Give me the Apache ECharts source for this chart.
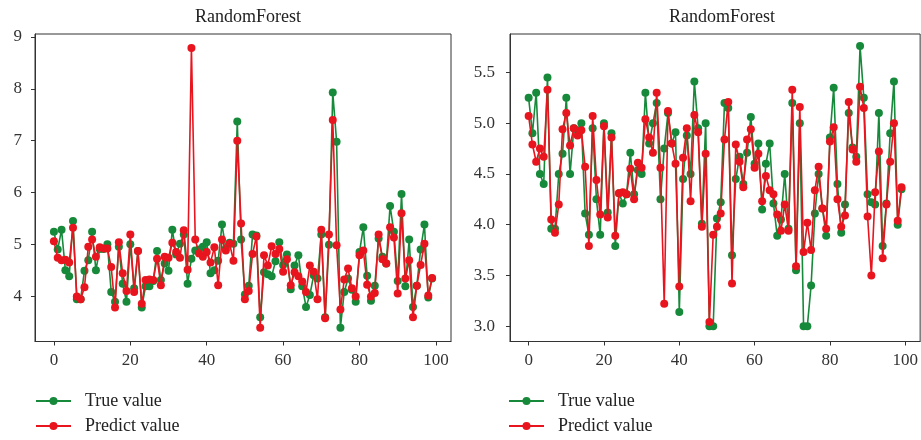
<!DOCTYPE html>
<html>
<head>
<meta charset="utf-8">
<script src="https://cdn.jsdelivr.net/npm/echarts@6/dist/echarts.min.js"></script>
<style>
html,body{margin:0;padding:0;background:#fff;}
#chart{width:921px;height:440px;}
</style>
</head>
<body>
<div id="chart"></div>
<script>
const titleText = 'RandomForest';
const legendNames = ['True value', 'Predict value'];
const xTicks = [0, 20, 40, 60, 80, 100];
const yTicksLeft = [4, 5, 6, 7, 8, 9];
const yTicksRight = [3.0, 3.5, 4.0, 4.5, 5.0, 5.5];

const trueLeft = [5.24,4.9,5.28,4.5,4.38,5.45,3.94,3.94,4.49,4.69,5.24,4.5,4.91,4.91,5.0,4.08,3.89,4.95,4.24,3.89,
5.0,4.15,4.87,3.78,4.19,4.19,4.29,4.87,4.31,4.63,4.49,5.28,4.8,5.01,5.19,4.24,4.72,4.88,4.9,4.95,
5.04,4.44,4.5,4.68,5.38,4.92,5.03,5.01,7.37,5.09,4.03,4.2,5.19,5.17,3.59,4.46,4.42,4.38,4.67,5.04,
4.6,4.8,4.13,4.59,4.79,4.19,3.79,4.02,4.4,4.34,5.19,3.59,4.99,7.93,6.98,3.39,4.08,4.34,4.12,3.89,
4.85,5.33,4.39,3.91,4.2,5.11,4.76,4.63,5.74,5.24,4.29,5.97,4.19,5.09,3.79,4.2,4.9,5.38,3.97,4.34];
const predLeft = [5.06,4.74,4.69,4.7,4.65,5.32,3.99,3.94,4.17,4.95,5.09,4.76,4.94,4.92,4.92,4.56,3.78,5.04,4.44,4.1,
5.19,4.08,4.87,3.85,4.31,4.32,4.31,4.72,4.21,4.76,4.74,5.03,4.85,4.74,5.27,4.51,8.79,5.09,4.82,4.76,
4.85,4.65,4.94,4.21,5.09,4.88,5.01,4.68,7.0,5.4,3.94,4.1,4.81,5.15,3.39,4.79,4.59,4.96,4.81,4.91,
4.47,4.71,4.21,4.46,4.38,4.28,4.08,4.59,4.47,3.94,5.28,3.57,5.19,7.4,4.98,3.74,4.32,4.53,4.15,3.99,
4.79,4.88,4.22,3.99,4.06,5.19,4.71,4.63,5.33,5.13,4.05,5.6,4.34,4.69,3.59,4.2,4.6,5.01,4.01,4.35];
const trueRight = [5.25,4.9,5.3,4.5,4.4,5.45,3.96,3.96,4.5,4.7,5.25,4.5,4.95,4.93,5.0,4.11,3.9,4.95,4.25,3.9,
5.0,4.12,4.9,3.79,4.31,4.21,4.3,4.71,4.3,4.54,4.5,5.3,4.8,5.0,5.2,4.25,4.75,5.1,4.8,4.91,
3.14,4.45,4.88,4.5,5.41,4.95,4.01,5.0,3.0,3.0,4.06,4.22,5.2,5.15,3.7,4.45,4.67,4.4,4.71,5.06,
4.6,4.8,4.15,4.6,4.8,4.21,3.89,4.05,4.5,3.96,5.2,3.55,5.0,3.0,3.0,3.4,4.11,4.5,4.16,3.89,
4.86,5.35,4.4,3.92,4.2,5.1,4.76,4.67,5.76,5.25,4.3,4.22,4.2,5.1,3.79,4.21,4.9,5.41,4.0,4.35];
const predRight = [5.07,4.79,4.62,4.75,4.67,5.33,4.05,3.92,4.2,4.94,5.1,4.78,4.95,4.88,4.93,4.57,3.79,5.07,4.44,4.1,
4.97,4.07,4.86,3.89,4.31,4.32,4.3,4.55,4.25,4.61,4.56,5.04,4.86,4.71,5.3,4.56,3.22,5.12,4.8,4.6,
3.39,4.66,4.95,4.23,5.08,4.91,3.98,4.7,3.04,3.9,3.98,4.11,4.84,5.21,3.42,4.79,4.62,4.37,4.84,4.94,
4.56,4.7,4.23,4.48,4.34,4.3,4.1,3.94,4.2,3.94,5.33,3.59,5.16,3.73,4.02,3.75,4.34,4.57,4.16,3.96,
4.82,4.96,4.25,3.98,4.09,5.21,4.74,4.62,5.36,5.15,4.08,3.5,4.32,4.72,3.67,4.2,4.62,5.0,4.04,4.37];

const GREEN = '#17893a';
const RED = '#e8141e';
const AXC = '#333';
const FONT = '"Liberation Serif", "DejaVu Serif", serif';

function pairs(arr){ return arr.map((v, i) => [i, v]); }

function lineSeries(name, data, color, idx, z){
  return {
    name: name, type: 'line', xAxisIndex: idx, yAxisIndex: idx,
    data: pairs(data), symbol: 'circle', symbolSize: 8, showSymbol: true,
    itemStyle: {color: color}, lineStyle: {color: color, width: 1.6},
    emphasis: {disabled: true}, animation: false, z: z
  };
}

function xAxis(idx){
  return {
    type: 'value', gridIndex: idx, min: -4.95, max: 103.95,
    splitLine: {show: false},
    axisLine: {show: true, onZero: false, lineStyle: {color: AXC, width: 1}},
    axisTick: {show: true, length: 4, customValues: xTicks, lineStyle: {color: AXC}},
    axisLabel: {customValues: xTicks, margin: 11, fontFamily: FONT, fontSize: 17, color: AXC}
  };
}

function yAxis(idx, min, max, ticks, margin, fmt){
  return {
    type: 'value', gridIndex: idx, min: min, max: max,
    splitLine: {show: false},
    axisLine: {show: true, onZero: false, lineStyle: {color: AXC, width: 1}},
    axisTick: {show: true, length: 4, customValues: ticks, lineStyle: {color: AXC}},
    axisLabel: {customValues: ticks, margin: margin, fontFamily: FONT, fontSize: 17, color: AXC,
      formatter: fmt}
  };
}

function legend(left){
  return {
    left: left, top: 392, orient: 'vertical', itemGap: 7, padding: 0, height: 60,
    itemWidth: 35, itemHeight: 10,
    data: legendNames,
    textStyle: {fontFamily: FONT, fontSize: 18, color: '#222', padding: [0, 0, 0, 9]},
    selectedMode: false
  };
}

const chart = echarts.init(document.getElementById('chart'), null, {renderer: 'canvas'});
chart.setOption({
  backgroundColor: '#fff',
  animation: false,
  title: [
    {text: titleText, left: 243, top: 3, textAlign: 'center',
     textStyle: {fontFamily: FONT, fontSize: 18, fontWeight: 'normal', color: '#222'}},
    {text: titleText, left: 717, top: 3, textAlign: 'center',
     textStyle: {fontFamily: FONT, fontSize: 18, fontWeight: 'normal', color: '#222'}}
  ],
  grid: [
    {left: 35, top: 34, width: 416, height: 307.5, show: true, borderColor: AXC, borderWidth: 1, backgroundColor: 'transparent'},
    {left: 510, top: 34, width: 414, height: 307.5, show: true, borderColor: AXC, borderWidth: 1, backgroundColor: 'transparent'}
  ],
  xAxis: [xAxis(0), xAxis(1)],
  yAxis: [
    yAxis(0, 3.123, 9.058, yTicksLeft, 13, v => String(v)),
    yAxis(1, 2.849, 5.879, yTicksRight, 15, v => v.toFixed(1))
  ],
  legend: [legend(35), legend(508)],
  series: [
    lineSeries(legendNames[0], trueLeft, GREEN, 0, 2),
    lineSeries(legendNames[1], predLeft, RED, 0, 3),
    lineSeries(legendNames[0], trueRight, GREEN, 1, 2),
    lineSeries(legendNames[1], predRight, RED, 1, 3)
  ]
});
</script>
</body>
</html>
